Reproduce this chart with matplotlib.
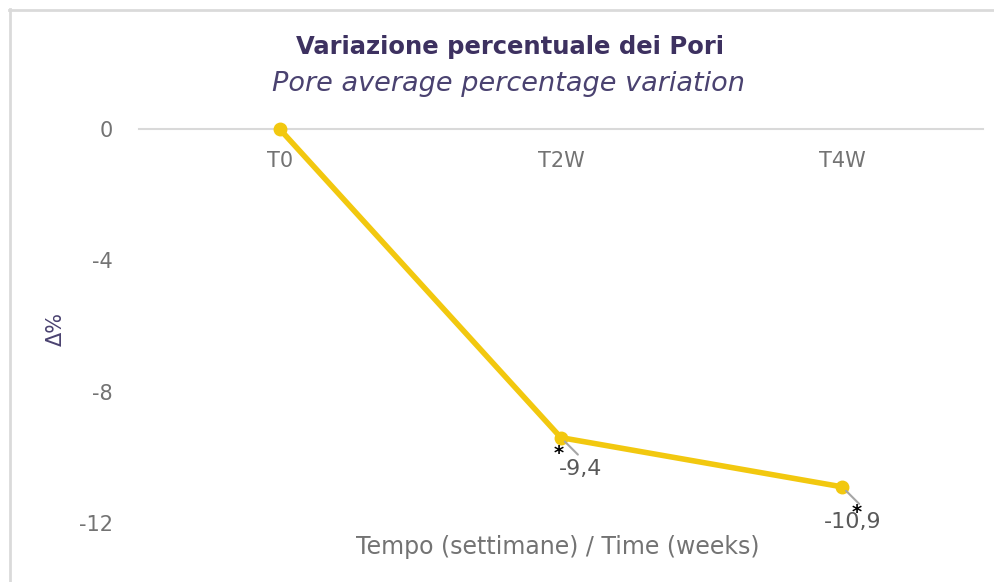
import matplotlib.pyplot as plt
from matplotlib.lines import Line2D

# Data
timepoints = ['T0', 'T2W', 'T4W']
variation = [0, -9.4, -10.9]
value_labels = ['', '-9,4', '-10,9']
significance = ['', '*', '*']
y_ticks = [0, -4, -8, -12]

plt.rcParams['font.family'] = ['DejaVu Sans']

fig = plt.figure(figsize=(9.95, 5.82), dpi=100)
ax = fig.add_axes([0.1397, 0.1014, 0.848, 0.677])

x = list(range(len(timepoints)))
ax.plot(x, variation, color='#F2C80F', linewidth=4, marker='o', markersize=9,
        clip_on=False, zorder=3, solid_capstyle='round')

ax.set_xlim(-0.5, 2.5)
ax.set_ylim(-12, 0)
ax.set_yticks(y_ticks)
ax.set_yticklabels([str(t) for t in y_ticks], fontsize=15, color='#737373')
ax.tick_params(axis='y', length=0, pad=19)
ax.set_xticks([])

for s in ['left', 'right', 'bottom']:
    ax.spines[s].set_visible(False)
ax.spines['top'].set_color('#D9D9D9')
ax.spines['top'].set_linewidth(1.5)

# category labels below the zero line
for xi, lab in zip(x, timepoints):
    ax.annotate(lab, (xi, 0), xytext=(0, -32), textcoords='offset pixels',
                ha='center', va='center', fontsize=15, color='#737373')

# value labels, leader lines and significance stars
label_off = [(0, 0), (20, -31), (11, -35)]
star_off = [(0, 0), (-2, -16), (15, -26)]
for xi, yv, lab, st, lo, so in zip(x, variation, value_labels, significance,
                                   label_off, star_off):
    if not lab:
        continue
    ax.annotate('', (xi, yv), xytext=(17, -17), textcoords='offset pixels',
                arrowprops=dict(arrowstyle='-', color='#A6A6A6', lw=1.5,
                                shrinkA=0, shrinkB=4))
    ax.annotate(lab, (xi, yv), xytext=lo, textcoords='offset pixels',
                ha='center', va='center', fontsize=16, color='#595959')
    ax.annotate(st, (xi, yv), xytext=so, textcoords='offset pixels',
                ha='center', va='center', fontsize=14, fontweight='bold',
                color='black')

# titles and axis labels
fig.text(0.513, 0.919, 'Variazione percentuale dei Pori', ha='center',
         va='center', fontsize=17.5, fontweight='bold', color='#3D3160')
fig.text(0.511, 0.855, 'Pore average percentage variation', ha='center',
         va='center', fontsize=19.5, style='italic', color='#4A4270')
fig.text(0.056, 0.435, 'Δ%', ha='center', va='center', rotation=90,
         fontsize=15, color='#4A4270')
fig.text(0.561, 0.060, 'Tempo (settimane) / Time (weeks)', ha='center',
         va='center', fontsize=17, color='#737373')

# outer frame (top and left edges)
fig.add_artist(Line2D([9 / 995, 1], [1 - 10 / 582, 1 - 10 / 582],
                      transform=fig.transFigure, color='#DADADA', lw=2))
fig.add_artist(Line2D([10 / 995, 10 / 995], [0, 1 - 9 / 582],
                      transform=fig.transFigure, color='#DADADA', lw=2))

fig.savefig('out.png', dpi=100)
